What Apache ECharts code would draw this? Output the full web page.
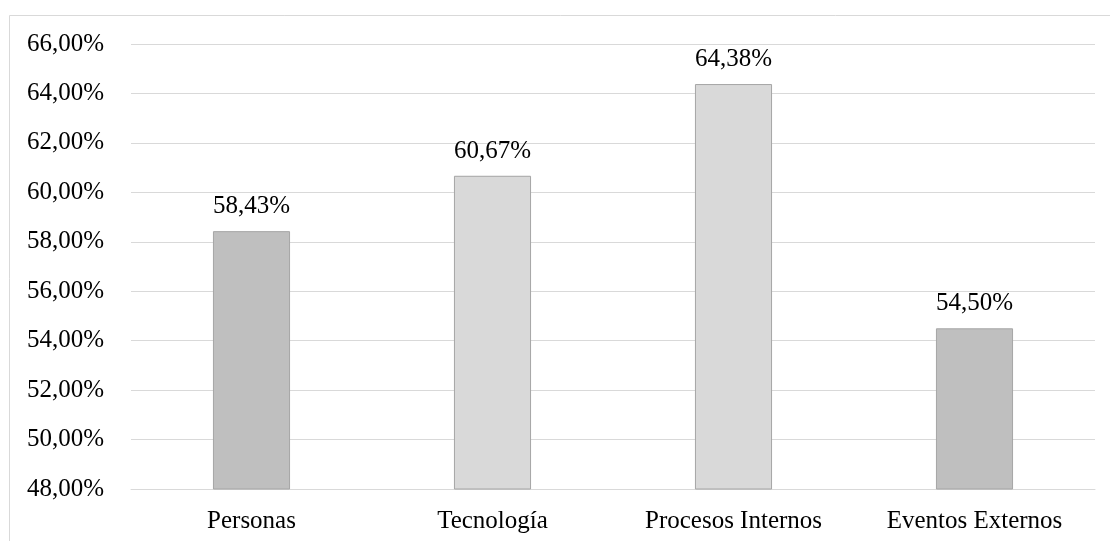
<!DOCTYPE html>
<html>
<head>
<meta charset="utf-8">
<script src="https://cdn.jsdelivr.net/npm/echarts@6/dist/echarts.min.js"></script>
<style>
  html, body { margin: 0; padding: 0; background: #ffffff; }
  #chart { width: 1110px; height: 541px; }
</style>
</head>
<body>
<div id="chart"></div>
<script>
// Risk categories and their percentage scores
const categories = ['Personas', 'Tecnología', 'Procesos Internos', 'Eventos Externos'];
const values = [58.43, 60.67, 64.38, 54.50];
const barColors = ['#bfbfbf', '#d9d9d9', '#d9d9d9', '#bfbfbf'];

// Value axis range (percent)
const yMin = 48;
const yMax = 66;
const yStep = 2;

const fmt = v => v.toFixed(2).replace('.', ',') + '%';
const font = '"Liberation Serif", "Times New Roman", serif';

const chart = echarts.init(document.getElementById('chart'), null, { renderer: 'canvas' });

chart.setOption({
  animation: false,
  backgroundColor: '#ffffff',
  graphic: [{
    type: 'rect',
    shape: { x: 9.5, y: 15.5, width: 1200, height: 600 },
    style: { fill: 'none', stroke: '#d9d9d9', lineWidth: 1 },
    silent: true
  }],
  grid: { left: 131, right: 15, top: 44, bottom: 52 },
  xAxis: {
    type: 'category',
    data: categories,
    axisTick: { show: false },
    axisLine: { show: true, lineStyle: { color: '#d9d9d9', width: 1 } },
    axisLabel: { color: '#000000', fontFamily: font, fontSize: 25, margin: 20 }
  },
  yAxis: {
    type: 'value',
    min: yMin,
    max: yMax,
    interval: yStep,
    axisLine: { show: false },
    axisTick: { show: false },
    splitLine: { lineStyle: { color: '#d9d9d9', width: 1 } },
    axisLabel: { color: '#000000', fontFamily: font, fontSize: 25, margin: 27, formatter: fmt }
  },
  series: [{
    type: 'bar',
    barWidth: '32%',
    data: values.map((v, i) => ({
      value: v,
      itemStyle: { color: barColors[i], borderColor: '#a5a5a5', borderWidth: 1 }
    })),
    label: {
      show: true,
      position: 'top',
      distance: 12,
      color: '#000000',
      fontFamily: font,
      fontSize: 25,
      formatter: p => fmt(p.value)
    }
  }]
});
</script>
</body>
</html>
